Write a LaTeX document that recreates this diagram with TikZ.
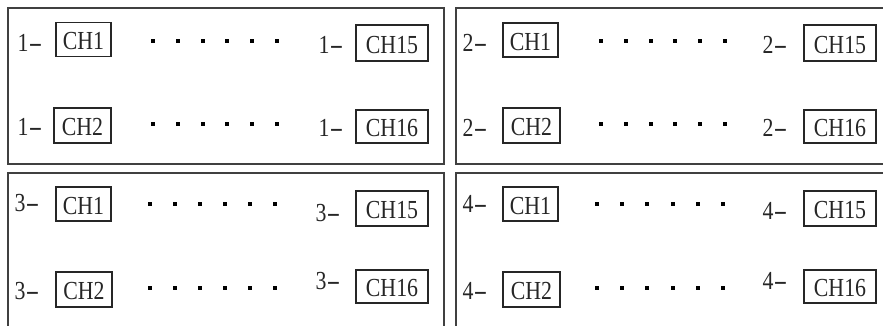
\documentclass[tikz,border=0pt]{standalone}
\usepackage{fontspec}
\usepackage{graphicx}
\setmainfont{Liberation Serif}[FakeStretch=0.84]
\newcommand{\wdash}{\scalebox{1.9}[1]{-}}
\begin{document}
\begin{tikzpicture}[x=1pt,y=-1pt,
  chbox/.style={draw=black!85, line width=1.3pt, inner xsep=0pt, inner ysep=0pt, text height=20pt, text depth=0pt, minimum height=34pt, font=\fontsize{26}{26}\selectfont, text=black!85},
  lbl/.style={inner sep=0pt, text height=19pt, text depth=0pt, font=\fontsize{26}{26}\selectfont, text=black!85},
  panel/.style={draw=black!75, line width=1.3pt},
  dotsq/.style={fill=black, minimum size=4pt, inner sep=0pt}]
\useasboundingbox (0,0) rectangle (883,325);
\clip (0,0) rectangle (883,325);
% panels
\draw[panel] (8,8) rectangle (444,164);
\draw[panel] (456,8) rectangle (895,164);
\draw[panel] (8,173) rectangle (444,340);
\draw[panel] (456,173) rectangle (895,340);
% panel 1
\node[lbl] (p1l1) at (30,42) {1\wdash};
\node[chbox, minimum width=55pt] (p1ch1) at (83.5,39.5) {CH1};
\node[lbl] (p1r1) at (331,44) {1\wdash};
\node[chbox, minimum width=72pt, minimum height=36pt] (p1ch15) at (392,43) {CH15};
\node[lbl] (p1l2) at (30,126) {1\wdash};
\node[chbox, minimum width=57pt, minimum height=35pt] (p1ch2) at (82.5,125.5) {CH2};
\node[lbl] (p1r2) at (331,127) {1\wdash};
\node[chbox, minimum width=72pt, minimum height=33pt] (p1ch16) at (392,126.5) {CH16};
% panel 2
\node[lbl] (p2l1) at (475,42) {2\wdash};
\node[chbox, minimum width=55pt] (p2ch1) at (530.5,40) {CH1};
\node[lbl] (p2r1) at (775,44) {2\wdash};
\node[chbox, minimum width=72pt, minimum height=36pt] (p2ch15) at (840,43) {CH15};
\node[lbl] (p2l2) at (475,127) {2\wdash};
\node[chbox, minimum width=57pt, minimum height=35pt] (p2ch2) at (531.5,125.5) {CH2};
\node[lbl] (p2r2) at (775,127) {2\wdash};
\node[chbox, minimum width=72pt, minimum height=33pt] (p2ch16) at (840,126.5) {CH16};
% panel 3
\node[lbl] (p3l1) at (27,202) {3\wdash};
\node[chbox, minimum width=55pt] (p3ch1) at (83.5,204) {CH1};
\node[lbl] (p3r1) at (328,212) {3\wdash};
\node[chbox, minimum width=72pt, minimum height=35pt] (p3ch15) at (392,208.5) {CH15};
\node[lbl] (p3l2) at (27,290) {3\wdash};
\node[chbox, minimum width=56pt, minimum height=35pt] (p3ch2) at (84,289.5) {CH2};
\node[lbl] (p3r2) at (328,280) {3\wdash};
\node[chbox, minimum width=72pt, minimum height=33pt] (p3ch16) at (392,286.5) {CH16};
% panel 4
\node[lbl] (p4l1) at (475,203) {4\wdash};
\node[chbox, minimum width=55pt] (p4ch1) at (530.5,204) {CH1};
\node[lbl] (p4r1) at (775,210) {4\wdash};
\node[chbox, minimum width=72pt, minimum height=35pt] (p4ch15) at (840,208.5) {CH15};
\node[lbl] (p4l2) at (475,290) {4\wdash};
\node[chbox, minimum width=57pt, minimum height=35pt] (p4ch2) at (531.5,289.5) {CH2};
\node[lbl] (p4r2) at (775,280) {4\wdash};
\node[chbox, minimum width=72pt, minimum height=33pt] (p4ch16) at (840,286.5) {CH16};
% dots
\foreach \i in {0,...,5} {
  \node[dotsq] (p1da\i) at (153+24.8*\i,41) {};
  \node[dotsq] (p1db\i) at (153+24.8*\i,124) {};
  \node[dotsq] (p2da\i) at (601+24.8*\i,41) {};
  \node[dotsq] (p2db\i) at (601+24.8*\i,124) {};
  \node[dotsq] (p3da\i) at (150+25*\i,204) {};
  \node[dotsq] (p3db\i) at (150+25*\i,288) {};
  \node[dotsq] (p4da\i) at (597+25.2*\i,204) {};
  \node[dotsq] (p4db\i) at (597+25.2*\i,288) {};
}
\end{tikzpicture}
\end{document}
